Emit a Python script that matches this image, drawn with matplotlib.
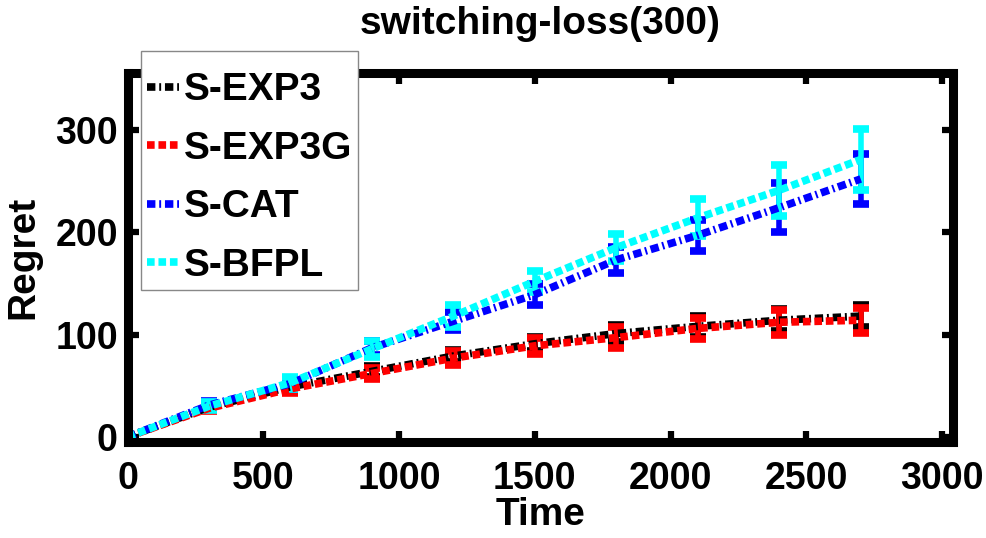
import matplotlib
matplotlib.use("Agg")
import matplotlib.pyplot as plt

plt.rcParams['font.family'] = ['Liberation Sans', 'DejaVu Sans']
plt.rcParams['font.weight'] = 'bold'

# Time steps at which regret was measured
t = [0, 300, 600, 900, 1200, 1500, 1800, 2100, 2400, 2700]

# Mean regret and error (half-width) per algorithm
exp3 = [0, 29, 49, 64, 79, 91, 101, 108, 114, 118]
exp3_err = [0, 3, 4, 5, 6, 7, 8, 10, 11, 11]
exp3g = [0, 28, 47, 62, 77, 89, 97, 106, 112, 114]
exp3g_err = [0, 3, 4, 5, 7, 8, 10, 10, 12, 12]
cat = [0, 31, 52, 87, 113, 139, 173, 197, 224, 252]
cat_err = [0, 4, 5, 7, 9, 10, 13, 15, 24, 24]
bfpl = [0, 30, 53, 86, 118, 152, 185, 214, 241, 271]
bfpl_err = [0, 4, 6, 8, 11, 10, 13, 18, 25, 30]

labels = ['S-EXP3', 'S-EXP3G', 'S-CAT', 'S-BFPL']
colors = ['#000000', '#ff0000', '#0000ff', '#00ffff']

x_ticks = [0, 500, 1000, 1500, 2000, 2500, 3000]
y_ticks = [0, 100, 200, 300]

dashdot = (0, (1.1, 0.5, 0.25, 0.5))
dotted = (0, (1.0, 0.5))
styles = [dashdot, dotted, dashdot, dotted]

fig = plt.figure(figsize=(9.87, 5.38), dpi=100)
ax = fig.add_axes([0.1292, 0.1784, 0.8364, 0.6868])

series = [(exp3, exp3_err), (exp3g, exp3g_err), (cat, cat_err), (bfpl, bfpl_err)]
handles = []
for (vals, errs), lab, col, ls in zip(series, labels, colors, styles):
    cont = ax.errorbar(t, vals, yerr=errs, color=col, ecolor=col,
                       linestyle=ls, linewidth=5.5, elinewidth=4,
                       capsize=5.5, capthick=5.5, label=lab)
    handles.append(cont[0])

ax.set_xlim(0, 3040)
ax.set_ylim(-5, 356)
ax.set_xticks(x_ticks)
ax.set_yticks(y_ticks)
ax.tick_params(direction='in', length=8, width=4.5, top=True, right=True,
               labelsize=27)
ax.tick_params(axis='x', pad=14)
ax.tick_params(axis='y', pad=7)
for sp in ax.spines.values():
    sp.set_linewidth(6.5)

ax.set_xlabel('Time', fontsize=28, fontweight='bold', labelpad=0)
ax.set_ylabel('Regret', fontsize=28, fontweight='bold', labelpad=10)
ax.set_title('switching-loss(300)', fontsize=28, fontweight='bold', pad=28)

leg = ax.legend(handles, labels, loc='upper left',
                bbox_to_anchor=(0.0164, 1.058), borderaxespad=0,
                fontsize=28, handlelength=0.82, handletextpad=0.13,
                labelspacing=0.58, borderpad=0.15, fancybox=False,
                framealpha=1, edgecolor='#888888',
                title=' ', title_fontsize=6)
leg._legend_box.sep = 6
leg.get_frame().set_linewidth(1.0)
for txt in leg.get_texts():
    txt.set_fontweight('bold')
leg.set_zorder(10)

fig.savefig('out.png', dpi=100)
